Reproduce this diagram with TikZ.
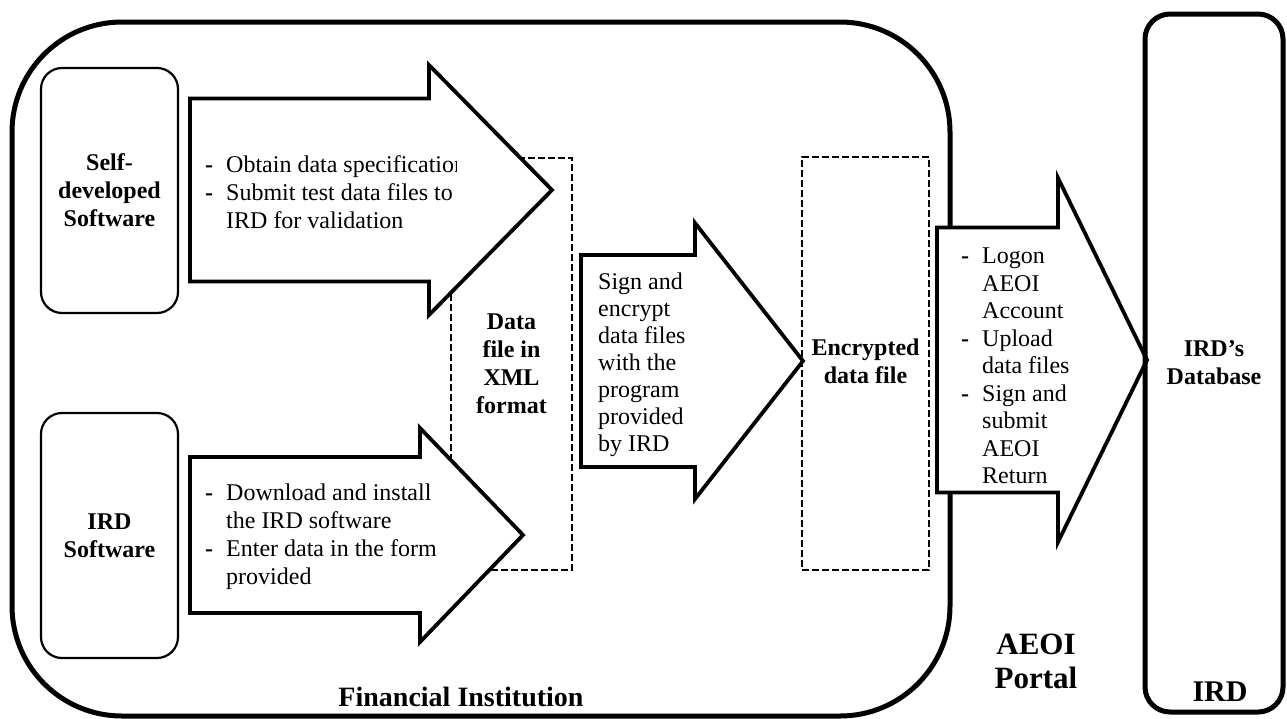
\documentclass[tikz,border=0pt]{standalone}
\usepackage{fontspec}
\setmainfont{Liberation Serif}
\newcommand\myBody{\fontsize{24}{28}\selectfont}
\newcommand\lstitem[1]{\makebox[21pt][l]{\textbf{-}}#1}
\newcommand\lstcont[1]{\hspace*{21pt}#1}
\newcommand\blockarrow[6]{%
  \draw[arrowshape] (#1,#4-#5) -- (#2,#4-#5) -- (#2,#4-#6) -- (#3,#4) -- (#2,#4+#6) -- (#2,#4+#5) -- (#1,#4+#5) -- cycle;}
\tikzset{
  fibox/.style={draw, line width=5pt, rounded corners=110pt, inner sep=0pt,
    minimum width=938pt, minimum height=694pt},
  irdbox/.style={draw, line width=5pt, rounded corners=25pt, inner sep=0pt,
    minimum width=138pt, minimum height=698pt, font={\myBody\bfseries}, align=center},
  swbox/.style={draw, line width=2.2pt, rounded corners=21pt, inner sep=0pt,
    minimum width=137pt, minimum height=245pt, font={\myBody\bfseries}, align=center},
  filebox/.style={draw, line width=1.8pt, dash pattern=on 7pt off 3pt, inner sep=0pt,
    font={\myBody\bfseries}, align=center},
  arrowshape/.style={draw, fill=white, line width=3.8pt, miter limit=20},
  listtext/.style={inner sep=0pt, align=left, anchor=west, font=\myBody},
  biglabel/.style={inner sep=0pt, align=center, font={\fontsize{28}{33}\selectfont\bfseries}}
}
\begin{document}
\begin{tikzpicture}[x=1pt,y=-1pt]
\useasboundingbox (0,0) rectangle (1287,718);
% Financial Institution container
\node[fibox] (fi) at (481,369) {};
% dashed file boxes
\node[filebox, minimum width=121pt, minimum height=412pt] (xml) at (511.5,364) {Data\\file in\\XML\\format};
\node[filebox, minimum width=127pt, minimum height=413pt] (enc) at (865.5,363.5) {\raisebox{-6pt}{\begin{tabular}{@{}c@{}}Encrypted\\data file\end{tabular}}};
% block arrows
\blockarrow{190}{429}{552}{190}{91.5}{125}
\blockarrow{190}{420}{523}{535}{78}{107}
\blockarrow{581}{695}{803}{361}{106}{138}
\blockarrow{937}{1058}{1147}{360}{132.5}{182}
% software boxes
\node[swbox] (self) at (109.5,190.5) {Self-\\developed\\Software};
\node[swbox] (irdsw) at (109.5,535.5) {IRD\\Software};
% IRD box
\node[irdbox] (ird) at (1214,363) {IRD’s\\Database};
% arrow texts
\begin{scope}
\clip (190,100) rectangle (456,283);
\node[listtext] (t1) at (205,192) {\lstitem{Obtain data specification}\\\lstitem{Submit test data files to}\\\lstcont{IRD for validation}};
\end{scope}
\node[listtext] (t2) at (205,537) {\lstitem{Download and install}\\\lstcont{the IRD software}\\\lstitem{Enter data in the form}\\\lstcont{provided}};
\node[listtext, font={\fontsize{24}{27}\selectfont}] (t3) at (598,365) {Sign and\\encrypt\\data files\\with the\\program\\provided\\by IRD};
\node[listtext, font={\fontsize{24}{27.5}\selectfont}] (t4) at (961,366) {\lstitem{Logon}\\\lstcont{AEOI}\\\lstcont{Account}\\\lstitem{Upload}\\\lstcont{data files}\\\lstitem{Sign and}\\\lstcont{submit}\\\lstcont{AEOI}\\\lstcont{Return}};
% big labels
\node[biglabel] (filbl) at (461,697) {Financial Institution};
\node[biglabel, font={\fontsize{31}{34}\selectfont\bfseries}] (aeoi) at (1036,661) {AEOI\\Portal};
\node[biglabel, font={\fontsize{30}{34}\selectfont\bfseries}] (irdlbl) at (1220,692) {IRD};
\end{tikzpicture}
\end{document}
